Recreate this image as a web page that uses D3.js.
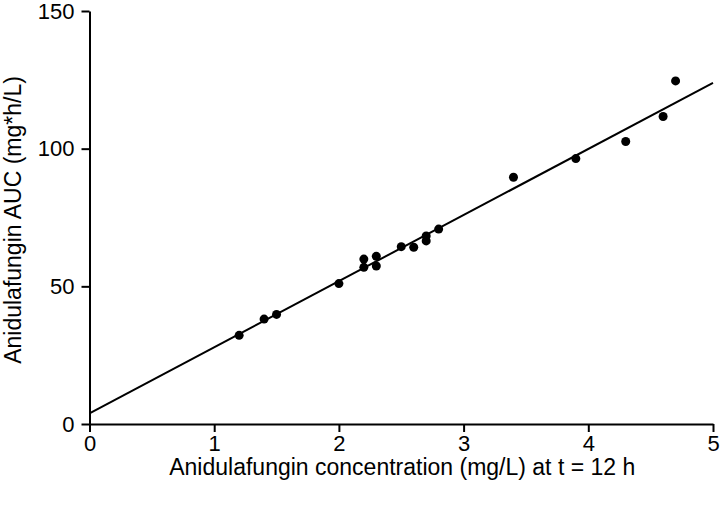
<!DOCTYPE html>
<html>
<head>
<meta charset="utf-8">
<script src="https://cdn.jsdelivr.net/npm/d3@7"></script>
<style>
  body { margin: 0; background: #fff; }
  svg text { font-family: "Liberation Sans", Arial, sans-serif; fill: #000; }
</style>
</head>
<body>
<div id="chart"></div>
<script>
// concentration at t = 12 h (mg/L)
var conc = [1.2, 1.4, 1.5, 2.0, 2.2, 2.2, 2.3, 2.3, 2.5, 2.6, 2.7, 2.7, 2.8, 3.4, 3.9, 4.3, 4.6, 4.7];
// AUC (mg*h/L)
var auc  = [32.2, 38.1, 39.8, 51.0, 56.9, 59.9, 57.4, 60.9, 64.4, 64.2, 66.5, 68.3, 70.8, 89.6, 96.4, 102.6, 111.7, 124.6];
// regression line [intercept, slope]
var fit = [3.9, 24.0];
var xTicks = [0, 1, 2, 3, 4, 5];
var yTicks = [0, 50, 100, 150];

var W = 720, H = 505;
var margin = {top: 11, right: 7, bottom: 81, left: 89.5};

var x_scale = d3.scaleLinear().domain([0, 5]).range([margin.left, W - margin.right]);
var y_scale = d3.scaleLinear().domain([0, 150]).range([H - margin.bottom, margin.top]);

var svg = d3.select("#chart").append("svg")
    .attr("width", W)
    .attr("height", H);

// axes
svg.append("g")
    .attr("transform", "translate(0," + y_scale(0) + ")")
    .call(d3.axisBottom(x_scale).tickValues(xTicks).tickFormat(d3.format("d")).tickSize(8).tickSizeOuter(0).tickPadding(3));

svg.append("g")
    .attr("transform", "translate(" + x_scale(0) + ",0)")
    .call(d3.axisLeft(y_scale).tickValues(yTicks).tickFormat(d3.format("d")).tickSize(8).tickSizeOuter(0).tickPadding(7));

svg.selectAll(".domain, .tick line")
    .attr("stroke", "#000")
    .attr("stroke-width", 2);
svg.selectAll(".tick text")
    .attr("font-size", 22)
    .style("font-family", "'Liberation Sans', Arial, sans-serif");

// fit line
var line = d3.line()
    .x(function(d) { return x_scale(d); })
    .y(function(d) { return y_scale(fit[0] + fit[1] * d); });

svg.append("path")
    .datum([0, 5])
    .attr("fill", "none")
    .attr("stroke", "#000")
    .attr("stroke-width", 2)
    .attr("d", line);

// points
svg.selectAll("circle.pt")
    .data(conc)
    .enter().append("circle")
    .attr("class", "pt")
    .attr("cx", function(d) { return x_scale(d); })
    .attr("cy", function(d, i) { return y_scale(auc[i]); })
    .attr("r", 4.5)
    .attr("fill", "#000");

// axis titles
svg.append("text")
    .attr("x", (x_scale(0) + x_scale(5)) / 2 + 1)
    .attr("y", 475)
    .attr("text-anchor", "middle")
    .attr("font-size", 23)
    .text("Anidulafungin concentration (mg/L) at t = 12 h");

svg.append("text")
    .attr("transform", "translate(21,220) rotate(-90)")
    .attr("text-anchor", "middle")
    .attr("font-size", 23)
    .text("Anidulafungin AUC (mg*h/L)");
</script>
</body>
</html>
